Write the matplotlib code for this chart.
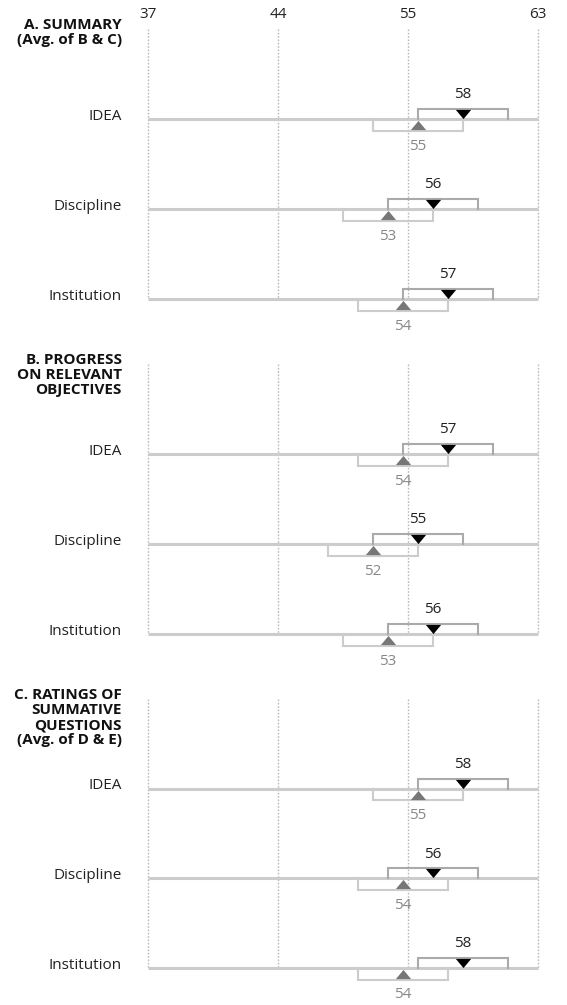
import numpy as np
import matplotlib
matplotlib.use('Agg')
import matplotlib.pyplot as plt
from matplotlib.path import Path
from matplotlib import transforms

plt.rcParams['font.family'] = ['Open Sans', 'DejaVu Sans']

# data
sections = ['A. SUMMARY\n(Avg. of B & C)',
            'B. PROGRESS\nON RELEVANT\nOBJECTIVES',
            'C. RATINGS OF\nSUMMATIVE\nQUESTIONS\n(Avg. of D & E)']
groups = ['IDEA', 'Discipline', 'Institution']
adjusted = [[58, 56, 57], [57, 55, 56], [58, 56, 58]]   # black, above line
raw = [[55, 53, 54], [54, 52, 53], [55, 54, 54]]        # gray, below line
tick_labels = ['37', '44', '55', '63']
x_min, x_max = 37, 63
half_band = 3

# axes tops / bottoms in pixels (figure is 567 x 1005)
W, H = 567, 1005
tops = [29, 364, 699]
bottoms = [299, 634, 968]
left, right = 148, 538

down_tri = Path([(-1, 0.6), (1, 0.6), (0, -0.6), (-1, 0.6)])
up_tri = Path([(-1, -0.6), (1, -0.6), (0, 0.6), (-1, -0.6)])

fig = plt.figure(figsize=(W / 100, H / 100), dpi=100)
ticks = np.linspace(x_min, x_max, len(tick_labels))

for s in range(3):
    ax = fig.add_axes([left / W, 1 - bottoms[s] / H, (right - left) / W, (bottoms[s] - tops[s]) / H])
    ax.set_xlim(x_min, x_max)
    ax.set_ylim(2, -1)
    for sp in ax.spines.values():
        sp.set_visible(False)
    ax.set_yticks([])
    ax.vlines(ticks, -1, 2, colors='#bbbbbb', linestyles=(0, (1.2, 1.2)), lw=1, clip_on=False, zorder=0)
    if s == 0:
        ax.xaxis.tick_top()
        ax.set_xticks(ticks)
        ax.set_xticklabels(tick_labels, fontsize=11, color='#222222')
        ax.tick_params(axis='x', length=0, pad=5)
    else:
        ax.set_xticks([])

    blend = transforms.blended_transform_factory(fig.transFigure, ax.transData)
    ax.text(122 / W, -1.12, sections[s], transform=blend, ha='right', va='top',
            fontsize=11, fontweight='bold', color='#111111', linespacing=1.08)

    for r, g in enumerate(groups):
        ax.hlines(r, x_min, x_max, colors='#cccccc', lw=2.2, zorder=1, clip_on=False)
        a = adjusted[s][r]
        b = raw[s][r]
        # upper bracket around adjusted score
        ax.plot([a - half_band, a - half_band, a + half_band, a + half_band],
                [r, r - 0.11, r - 0.11, r], color='#aaaaaa', lw=1.5, zorder=2,
                solid_joinstyle='miter', clip_on=False)
        # lower bracket around raw score
        ax.plot([b - half_band, b - half_band, b + half_band, b + half_band],
                [r, r + 0.13, r + 0.13, r], color='#cccccc', lw=1.5, zorder=2,
                solid_joinstyle='miter', clip_on=False)
        ax.plot(a, r - 0.055, marker=down_tri, ms=11, color='black', mew=0, zorder=4, clip_on=False)
        ax.plot(b, r + 0.068, marker=up_tri, ms=11, color='#777777', mew=0, zorder=4, clip_on=False)
        ax.text(a, r - 0.27, str(a), ha='center', va='center', fontsize=11, color='#222222')
        ax.text(b, r + 0.30, str(b), ha='center', va='center', fontsize=11, color='#888888')
        ax.text(122 / W, r - 0.03, g, transform=blend, ha='right', va='center',
                fontsize=11, color='#222222')

fig.savefig('out.png', dpi=100)
